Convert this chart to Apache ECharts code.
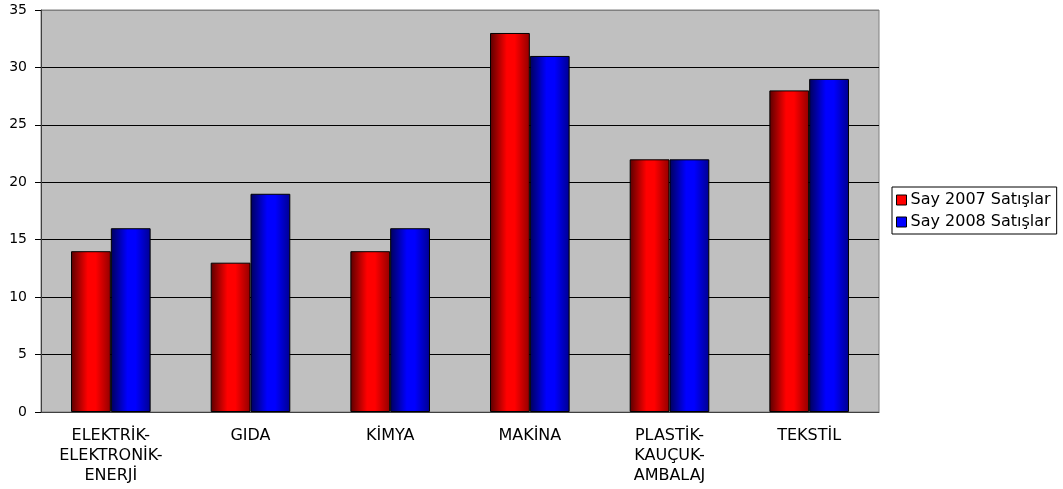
<!DOCTYPE html>
<html><head><meta charset="utf-8">
<script src="https://cdn.jsdelivr.net/npm/echarts@6/dist/echarts.min.js"></script>
<style>html,body{margin:0;padding:0;background:#fff}#c{width:1063px;height:489px}</style>
</head><body><div id="c"></div>
<script>
var categories = ['ELEKTRİK-\nELEKTRONİK-\nENERJİ', 'GIDA', 'KİMYA', 'MAKİNA', 'PLASTİK-\nKAUÇUK-\nAMBALAJ', 'TEKSTİL'];
var sales2007 = [14, 13, 14, 33, 22, 28];
var sales2008 = [16, 19, 16, 31, 22, 29];
var seriesNames = ['Say 2007 Satışlar', 'Say 2008 Satışlar'];
var yTicks = {min: 0, max: 35, interval: 5};

var FONT = 'DejaVu Sans, Arial, sans-serif';
function grad(dark, bright, end) {
  return new echarts.graphic.LinearGradient(0, 0, 1, 0, [
    {offset: 0, color: dark}, {offset: 0.42, color: bright}, {offset: 0.62, color: bright}, {offset: 1, color: end}
  ]);
}
var chart = echarts.init(document.getElementById('c'), null, {renderer: 'canvas'});
chart.setOption({
  animation: false,
  textStyle: {fontFamily: FONT},
  grid: {left: 41, right: 184, top: 10, bottom: 77, show: true, backgroundColor: '#c0c0c0', borderColor: '#808080', borderWidth: 1},
  legend: {
    orient: 'vertical', left: 892, top: 187, itemWidth: 10, itemHeight: 10, itemGap: 6,
    backgroundColor: '#fff', borderColor: '#000', borderWidth: 1, padding: [5, 6, 4, 4],
    textStyle: {fontSize: 16, color: '#000', fontFamily: FONT, padding: [0,0,0,-1]},
    data: [
      {name: seriesNames[0], icon: 'rect', itemStyle: {color: '#ff0000', borderColor: '#000', borderWidth: 1}},
      {name: seriesNames[1], icon: 'rect', itemStyle: {color: '#0000ff', borderColor: '#000', borderWidth: 1}}
    ]
  },
  xAxis: {
    type: 'category', data: categories,
    axisLine: {lineStyle: {color: '#404040', width: 1}},
    axisTick: {length: 5, lineStyle: {color: '#000'}},
    axisLabel: {interval: 0, fontSize: 16, color: '#000', lineHeight: 20, margin: 14, fontFamily: FONT}
  },
  yAxis: {
    type: 'value', min: yTicks.min, max: yTicks.max, interval: yTicks.interval,
    axisLine: {show: true, lineStyle: {color: '#404040', width: 1}},
    axisTick: {show: true, length: 6, lineStyle: {color: '#000'}},
    axisLabel: {fontSize: 14, color: '#000', margin: 14, fontFamily: FONT},
    splitLine: {lineStyle: {color: ['#000','#000','#000','#000','#000','#000','#000','#808080'], width: 1}}
  },
  series: [
    {name: seriesNames[0], type: 'bar', data: sales2007, barGap: '0%', barCategoryGap: '43%',
     itemStyle: {color: grad('#5a0000', '#ff0000', '#900000'), borderColor: '#000', borderWidth: 1}},
    {name: seriesNames[1], type: 'bar', data: sales2008, barGap: '0%', barCategoryGap: '43%',
     itemStyle: {color: grad('#00005a', '#0000ff', '#000090'), borderColor: '#000', borderWidth: 1}}
  ]
});
</script></body></html>
